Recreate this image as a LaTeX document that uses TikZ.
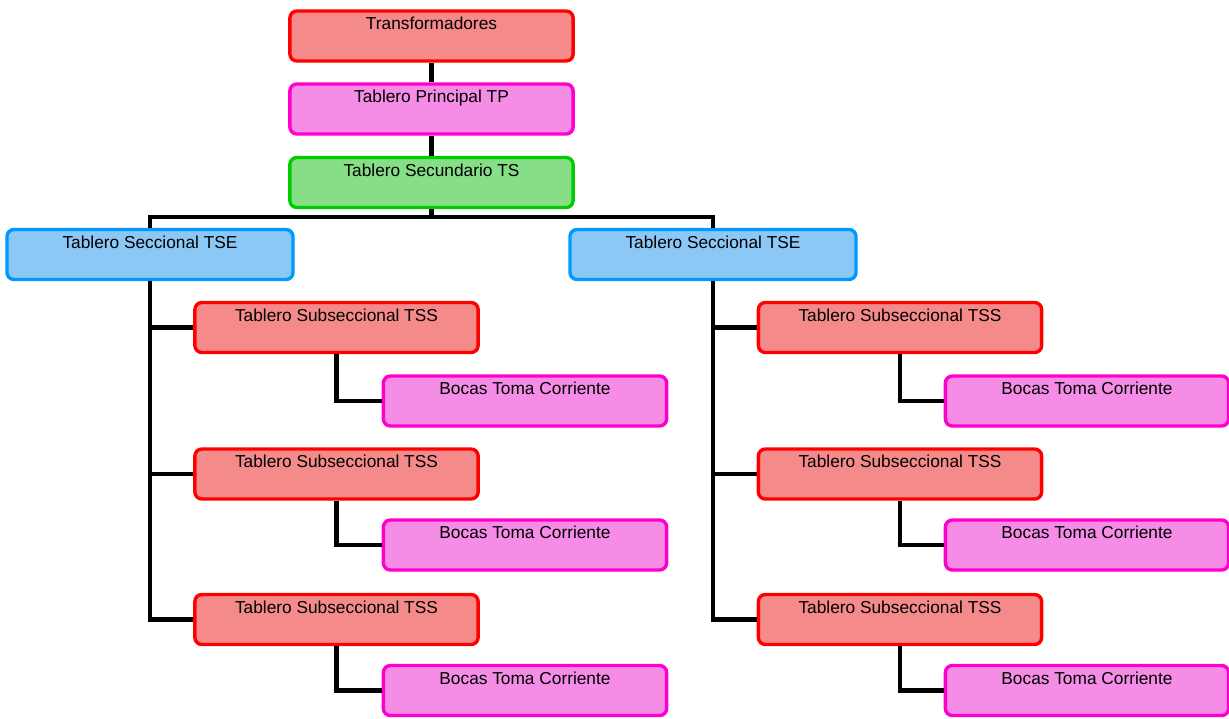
\documentclass[tikz,border=0pt]{standalone}
\usepackage{fontspec}
\setmainfont{Liberation Sans}
\definecolor{rojo}{HTML}{FF0000}
\definecolor{rojofill}{HTML}{F48A8A}
\definecolor{rosa}{HTML}{FF00CC}
\definecolor{rosafill}{HTML}{F58CE6}
\definecolor{verde}{HTML}{00CC00}
\definecolor{verdefill}{HTML}{86DE86}
\definecolor{azul}{HTML}{0099FF}
\definecolor{azulfill}{HTML}{8CC8F5}
\tikzset{
  caja/.style={rectangle, rounded corners=5pt, line width=2.4pt,
    minimum width=7.08cm, minimum height=1.25cm, inner sep=0pt,
    text height=0.47cm, text depth=0.78cm,
    font=\fontsize{12.3}{14}\selectfont},
  cajaroja/.style={caja, draw=rojo, fill=rojofill},
  cajarosa/.style={caja, draw=rosa, fill=rosafill},
  cajaverde/.style={caja, draw=verde, fill=verdefill},
  cajaazul/.style={caja, draw=azul, fill=azulfill, minimum width=7.15cm},
  linea/.style={line width=2.9pt, black}
}
\begin{document}
\begin{tikzpicture}[x=0.025cm,y=-0.025cm]
  \useasboundingbox (0,0) rectangle (1229,718);
  % tronco principal
  \node[cajaroja]  (trafo) at (431.5,36)  {Transformadores};
  \node[cajarosa]  (tp)    at (431.5,109) {Tablero Principal TP};
  \node[cajaverde] (ts)    at (431.5,182.5) {Tablero Secundario TS};
  \coordinate (bus) at (431.5,217);
  % seccionales
  \node[cajaazul] (tseL) at (150,254.5) {Tablero Seccional TSE};
  \node[cajaazul] (tseR) at (713,254.5) {Tablero Seccional TSE};
  % subseccionales, lado izquierdo
  \node[cajaroja] (tssL1) at (336.5,327.5) {Tablero Subseccional TSS};
  \node[cajaroja] (tssL2) at (336.5,474)   {Tablero Subseccional TSS};
  \node[cajaroja] (tssL3) at (336.5,619.5) {Tablero Subseccional TSS};
  \node[cajarosa] (bocL1) at (525,401)   {Bocas Toma Corriente};
  \node[cajarosa] (bocL2) at (525,545)   {Bocas Toma Corriente};
  \node[cajarosa] (bocL3) at (525,690.5) {Bocas Toma Corriente};
  % subseccionales, lado derecho
  \node[cajaroja] (tssR1) at (900,327.5) {Tablero Subseccional TSS};
  \node[cajaroja] (tssR2) at (900,474)   {Tablero Subseccional TSS};
  \node[cajaroja] (tssR3) at (900,619.5) {Tablero Subseccional TSS};
  \node[cajarosa] (bocR1) at (1087,401)   {Bocas Toma Corriente};
  \node[cajarosa] (bocR2) at (1087,545)   {Bocas Toma Corriente};
  \node[cajarosa] (bocR3) at (1087,690.5) {Bocas Toma Corriente};
  \begin{scope}[linea]
    \draw (trafo) -- (tp);
    \draw (tp) -- (ts);
    \draw (ts) -- (bus);
    \draw (tseL) |- (bus) -| (tseR);
    \draw (tseL) |- (tssL1);
    \draw (tseL) |- (tssL2);
    \draw (tseL) |- (tssL3);
    \draw (tseR) |- (tssR1);
    \draw (tseR) |- (tssR2);
    \draw (tseR) |- (tssR3);
    \draw (tssL1) |- (bocL1);
    \draw (tssL2) |- (bocL2);
    \draw (tssL3) |- (bocL3);
    \draw (tssR1) |- (bocR1);
    \draw (tssR2) |- (bocR2);
    \draw (tssR3) |- (bocR3);
  \end{scope}
\end{tikzpicture}
\end{document}
